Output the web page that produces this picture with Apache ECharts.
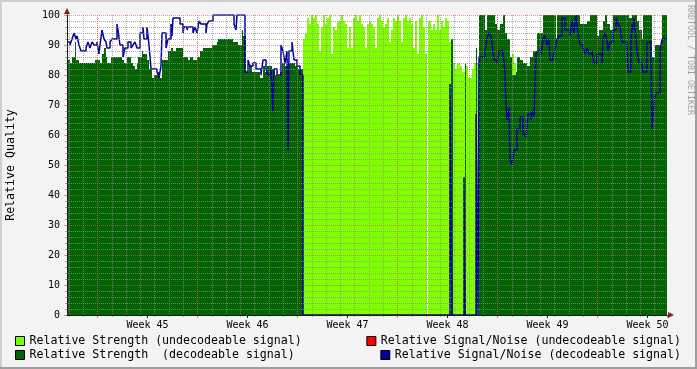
<!DOCTYPE html>
<html>
<head>
<meta charset="utf-8">
<script src="https://cdn.jsdelivr.net/npm/echarts@6/dist/echarts.min.js"></script>
<style>
html,body{margin:0;padding:0;background:#F3F3F3;}
#chart{width:697px;height:369px;}
</style>
</head>
<body>
<div id="chart"></div>
<script>
// ---- DATA (x = time slot since start of graph, 1 slot = 1.68 h; 100 slots = 1 week) ----
const weekNames = ['Week 45', 'Week 46', 'Week 47', 'Week 48', 'Week 49', 'Week 50'];

// Relative strength while the signal was decodeable: [slot, value], null = no data from here on
const strengthDecodeable = [
  [0,85],[3,84],[5,86],[8,91],[9,85],[12,84],[28,85],[33,84],[35,87],[37,89],[39,86],[40,84],[44,86],
  [55,85],[57,84],[60,86],[64,84],[66,83],[68,82],[70,84],[71,86],[75,88],[76,87],[80,85],[82,82],
  [85,79],[87,80],[91,81],[93,79],[95,85],[101,88],[104,89],[106,88],[109,89],[116,86],[121,85],
  [123,86],[126,85],[130,86],[133,88],[136,89],[145,90],[150,91],[151,92],[166,91],[171,90],[175,95],
  [176,93],[179,81],[182,83],[185,81],[193,79],[196,83],[198,81],[200,83],[205,82],[208,80],[213,81],
  [215,84],[218,83],[221,84],[228,83],[231,82],[236,null],
  [384,92],[386,null],
  [398,84],[399,null],
  [409,89],[410,null],
  [412,100],[418,95],[420,100],[428,97],[430,95],[433,97],[436,100],[438,94],[440,92],[443,86],[445,80],
  [449,81],[450,86],[453,85],[456,84],[460,83],[463,86],[466,88],[470,94],[476,100],[489,92],[490,100],
  [513,97],[520,98],[523,100],[530,93],[532,95],[536,98],[538,100],[540,97],[543,95],[546,100],[562,99],
  [565,100],[570,98],[572,95],[575,92],[576,100],[585,86],[588,90],[595,100],[600,null]
];

// Relative strength while the signal was undecodeable
const strengthUndecodeable = [
  [236,92],[238,94],[240,99],[242,97],[244,100],[246,99],[248,100],[250,97],[252,88],[254,96],[256,100],
  [258,97],[260,99],[262,100],[264,87],[266,96],[268,95],[270,98],[274,100],[276,98],[278,97],[280,89],
  [282,96],[284,89],[286,99],[288,100],[290,98],[292,100],[294,97],[296,96],[298,89],[300,97],[302,98],
  [304,97],[306,96],[308,89],[310,99],[312,100],[314,98],[316,96],[318,97],[320,99],[322,91],[324,95],
  [326,99],[328,98],[330,100],[332,98],[334,91],[336,99],[338,100],[340,98],[342,99],[344,97],[346,89],
  [348,98],[350,87],[352,99],[354,100],[356,96],[358,87],[360,null],[361,98],[364,95],[366,97],[368,95],
  [370,100],[372,95],[374,98],[376,96],[378,99],[380,98],[382,91],[384,null],
  [386,84],[388,82],[390,84],[393,83],[395,81],[398,null],
  [399,83],[401,79],[405,82],[407,84],[409,null],
  [410,84],[412,null],
  [445,87],[447,84],[449,null]
];

// Relative signal/noise, decodeable signal (0 while undecodeable)
const snDecodeable = [
  [0,91],[3,90],[5,92],[7,94],[9,92],[10,93],[12,90],[14,88],[19,89],[21,91],[23,89],[25,91],[27,90],
  [30,91],[32,87],[33,90],[35,95],[37,92],[39,91],[40,89],[43,91],[45,92],[50,97],[51,95],[53,90],
  [56,86],[58,89],[61,91],[64,89],[66,90],[68,91],[70,89],[73,94],[76,96],[77,92],[80,96],[82,90],
  [84,82],[90,81],[92,79],[94,83],[95,94],[99,89],[101,92],[104,97],[105,93],[106,99],[113,97],[116,94],
  [117,96],[120,95],[121,96],[126,94],[128,96],[130,94],[132,98],[134,97],[139,94],[140,97],[142,98],
  [146,100],[167,97],[169,95],[170,100],[178,81],[181,85],[183,83],[186,84],[189,82],[194,80],[196,85],
  [199,82],[201,80],[204,82],[206,68],[207,82],[210,80],[214,90],[216,88],[218,84],[220,88],[221,55],
  [222,88],[225,91],[227,85],[230,83],[233,80],[236,0],
  [383,77],[385,0],[397,46],[398,0],[409,67],[411,0],[412,86],[418,88],[420,92],[422,94],[424,93],
  [426,88],[427,85],[430,84],[432,88],[436,87],[438,81],[439,70],[440,65],[442,69],[443,52],[445,50],
  [447,55],[450,62],[453,66],[456,60],[459,59],[461,67],[464,65],[465,68],[467,66],[469,87],[471,88],
  [474,87],[476,92],[478,93],[480,90],[482,92],[483,85],[486,86],[488,89],[490,92],[492,93],[495,99],
  [498,95],[503,93],[505,98],[507,94],[509,100],[511,94],[513,90],[516,89],[518,87],[520,89],[522,87],
  [525,88],[527,84],[530,87],[535,84],[536,92],[538,94],[540,92],[541,88],[543,91],[546,95],[549,99],
  [551,97],[553,96],[555,91],[560,88],[561,81],[564,91],[565,97],[566,95],[567,99],[569,92],[570,88],
  [572,84],[575,83],[576,81],[580,91],[584,87],[585,62],[586,66],[587,70],[588,73],[589,74],[593,88],
  [595,92],[600,92]
];

// Relative signal/noise, undecodeable signal (nothing visible)
const snUndecodeable = [];

// ---- LAYOUT / STYLE ----
const MONO = 'DejaVu Sans Mono';
const SLOT_MAX = 600;
const WEEK = 100, DAY = 100 / 7;
const WEEK_START = 30.5;                 // first week boundary, in slots
const DAY_START = WEEK_START - 2 * DAY;  // first day boundary, in slots
const PLOT = { left: 67, top: 15, width: 600, height: 300 };
const weekLabelPos = [];
for (let k = 0; k < weekNames.length; k++) weekLabelPos.push(WEEK_START + WEEK / 2 + k * WEEK);

const MGRID = 'rgba(222,80,80,0.6)';
const GRID = 'rgba(143,143,143,0.75)';
const AXIS = '#1F1F1F';
const ARROW = '#801F1F';

function stepAreaRenderer(points, color) {
  return function (params, api) {
    const i = params.dataIndex;
    const cur = points[i], next = points[i + 1];
    if (!next || cur[1] == null) return null;
    const tl = api.coord([cur[0], cur[1]]);
    const br = api.coord([next[0], 0]);
    const x0 = Math.round(tl[0]), x1 = Math.round(br[0]);
    const y0 = Math.round(tl[1]), y1 = Math.round(br[1]);
    return { type: 'rect', shape: { x: x0, y: y0, width: x1 - x0, height: y1 - y0 }, style: { fill: color } };
  };
}

const baseX = { type: 'value', min: 0, max: SLOT_MAX, gridIndex: 0, position: 'bottom',
  axisLine: { show: false, onZero: false }, axisTick: { show: false }, axisLabel: { show: false }, splitLine: { show: false } };
const baseY = { type: 'value', min: 0, max: 100, interval: 10, gridIndex: 0,
  axisLine: { show: false }, axisTick: { show: false }, axisLabel: { show: false }, splitLine: { show: false } };

const legendCommon = { padding: 0, itemWidth: 9, itemHeight: 9, icon: 'rect', selectedMode: false,
  itemStyle: { borderColor: '#000', borderWidth: 1 },
  textStyle: { fontFamily: MONO, fontSize: 11.6, color: '#000', padding: 0 } };

// helper grids carrying the day / week vertical grid lines (shifted so min sits on a boundary)
const dayGridWidth = PLOT.width - DAY_START;
const weekGridWidth = PLOT.width - WEEK_START;
const gridCommon = { containLabel: false, outerBoundsMode: 'none' };

const option = {
  animation: false,
  backgroundColor: '#F3F3F3',
  textStyle: { fontFamily: MONO },
  grid: [
    Object.assign({}, gridCommon, { left: PLOT.left, top: PLOT.top, width: PLOT.width, height: PLOT.height, show: true, backgroundColor: '#FFFFFF', borderWidth: 0 }),
    Object.assign({}, gridCommon, { left: PLOT.left + DAY_START, top: PLOT.top, width: dayGridWidth, height: PLOT.height, show: false }),
    Object.assign({}, gridCommon, { left: PLOT.left + WEEK_START, top: PLOT.top, width: weekGridWidth, height: PLOT.height, show: false })
  ],
  xAxis: [
    Object.assign({}, baseX, { z: 12, axisLine: { show: true, onZero: false, lineStyle: { color: AXIS, width: 1 } } }),
    Object.assign({}, baseX, { z: 10, axisTick: { show: true, customValues: weekLabelPos, length: 3, lineStyle: { color: AXIS } },
      axisLabel: { show: true, customValues: weekLabelPos, margin: 5, fontFamily: MONO, fontSize: 10, color: '#000',
        formatter: function (v) { let best = 0; weekLabelPos.forEach(function (p, i) { if (Math.abs(p - v) < Math.abs(weekLabelPos[best] - v)) best = i; }); return weekNames[best]; } } }),
    Object.assign({}, baseX, { z: 11, axisLine: { show: true, onZero: false, lineStyle: { color: ARROW, width: 1 },
      symbol: ['none', 'triangle'], symbolSize: [6, 6], symbolOffset: [0, 4] } }),
    { type: 'value', gridIndex: 1, position: 'bottom', min: 0, max: dayGridWidth / DAY, interval: 1, z: 10,
      axisLine: { show: false, onZero: false }, axisLabel: { show: false },
      axisTick: { show: true, length: 2, lineStyle: { color: GRID } },
      splitLine: { show: true, showMinLine: true, showMaxLine: false, lineStyle: { color: GRID, type: [1, 1], width: 1 } } },
    { type: 'value', gridIndex: 2, position: 'bottom', min: 0, max: weekGridWidth / WEEK, interval: 1, z: 10,
      axisLine: { show: false, onZero: false }, axisLabel: { show: false },
      axisTick: { show: true, length: 3, lineStyle: { color: MGRID } },
      splitLine: { show: true, showMinLine: true, showMaxLine: false, lineStyle: { color: MGRID, type: [1, 1], width: 1 } } }
  ],
  yAxis: [
    Object.assign({}, baseY, { position: 'left', z: 12,
      axisLine: { show: true, lineStyle: { color: AXIS, width: 1 } },
      axisTick: { show: true, length: 3, lineStyle: { color: MGRID } },
      minorTick: { show: true, splitNumber: 5, length: 2, lineStyle: { color: GRID } },
      axisLabel: { show: true, margin: 7, fontFamily: MONO, fontSize: 10, color: '#000' },
      name: 'Relative Quality', nameLocation: 'middle', nameGap: 50,
      nameTextStyle: { fontFamily: MONO, fontSize: 11.6, color: '#000' } }),
    Object.assign({}, baseY, { position: 'left', z: 10,
      splitLine: { show: true, lineStyle: { color: MGRID, type: [1, 1], width: 1 } },
      minorTick: { show: false, splitNumber: 5 },
      minorSplitLine: { show: true, lineStyle: { color: GRID, type: [1, 1], width: 1 } } }),
    Object.assign({}, baseY, { position: 'right', z: 10,
      axisTick: { show: true, length: 3, lineStyle: { color: MGRID } },
      minorTick: { show: true, splitNumber: 5, length: 2, lineStyle: { color: GRID } } }),
    Object.assign({}, baseY, { position: 'left', z: 11,
      axisLine: { show: true, lineStyle: { color: ARROW, width: 1 }, symbol: ['none', 'triangle'], symbolSize: [6, 6], symbolOffset: [0, 4] } }),
    { type: 'value', gridIndex: 1, min: 0, max: 100, show: false },
    { type: 'value', gridIndex: 2, min: 0, max: 100, show: false }
  ],
  legend: [
    Object.assign({}, legendCommon, { data: ['Relative Strength (undecodeable signal)'], left: 15, top: 335 }),
    Object.assign({}, legendCommon, { data: ['Relative Strength  (decodeable signal)'], left: 15, top: 349 }),
    Object.assign({}, legendCommon, { data: ['Relative Signal/Noise (undecodeable signal)'], right: 16, top: 335 }),
    Object.assign({}, legendCommon, { data: ['Relative Signal/Noise (decodeable signal)'], right: 16, top: 349 })
  ],
  graphic: [
    { type: 'rect', left: 0, top: 0, shape: { width: 697, height: 2 }, style: { fill: '#CFCFCF' }, silent: true },
    { type: 'rect', left: 0, top: 0, shape: { width: 2, height: 369 }, style: { fill: '#CFCFCF' }, silent: true },
    { type: 'rect', left: 0, top: 367, shape: { width: 697, height: 2 }, style: { fill: '#9E9E9E' }, silent: true },
    { type: 'rect', left: 695, top: 0, shape: { width: 2, height: 369 }, style: { fill: '#9E9E9E' }, silent: true },
    { type: 'text', x: 690, y: 5, rotation: -Math.PI / 2, silent: true,
      style: { text: 'RRDTOOL / TOBI OETIKER', fontFamily: MONO, fontSize: 8.3, fill: 'rgba(0,0,0,0.35)', align: 'left', verticalAlign: 'middle' } }
  ],
  series: [
    { name: 'Relative Strength (undecodeable signal)', type: 'custom', xAxisIndex: 0, yAxisIndex: 0,
      itemStyle: { color: '#7FFF00' }, encode: { x: 0, y: 1 }, data: strengthUndecodeable,
      renderItem: stepAreaRenderer(strengthUndecodeable, '#7FFF00'), z: 2 },
    { name: 'Relative Signal/Noise (undecodeable signal)', type: 'line', xAxisIndex: 0, yAxisIndex: 0, step: 'end',
      symbol: 'none', itemStyle: { color: '#FF0000' }, lineStyle: { color: '#FF0000', width: 1.5 }, data: snUndecodeable, z: 3 },
    { name: 'Relative Strength  (decodeable signal)', type: 'custom', xAxisIndex: 0, yAxisIndex: 0,
      itemStyle: { color: '#006400' }, encode: { x: 0, y: 1 }, data: strengthDecodeable,
      renderItem: stepAreaRenderer(strengthDecodeable, '#006400'), z: 2 },
    { name: 'Relative Signal/Noise (decodeable signal)', type: 'line', xAxisIndex: 0, yAxisIndex: 0, step: 'end',
      symbol: 'none', itemStyle: { color: '#00009C' }, lineStyle: { color: '#00009C', width: 1.5 }, data: snDecodeable, z: 3 }
  ]
};

const chart = echarts.init(document.getElementById('chart'), null, { renderer: 'canvas' });
chart.setOption(option);
</script>
</body>
</html>
